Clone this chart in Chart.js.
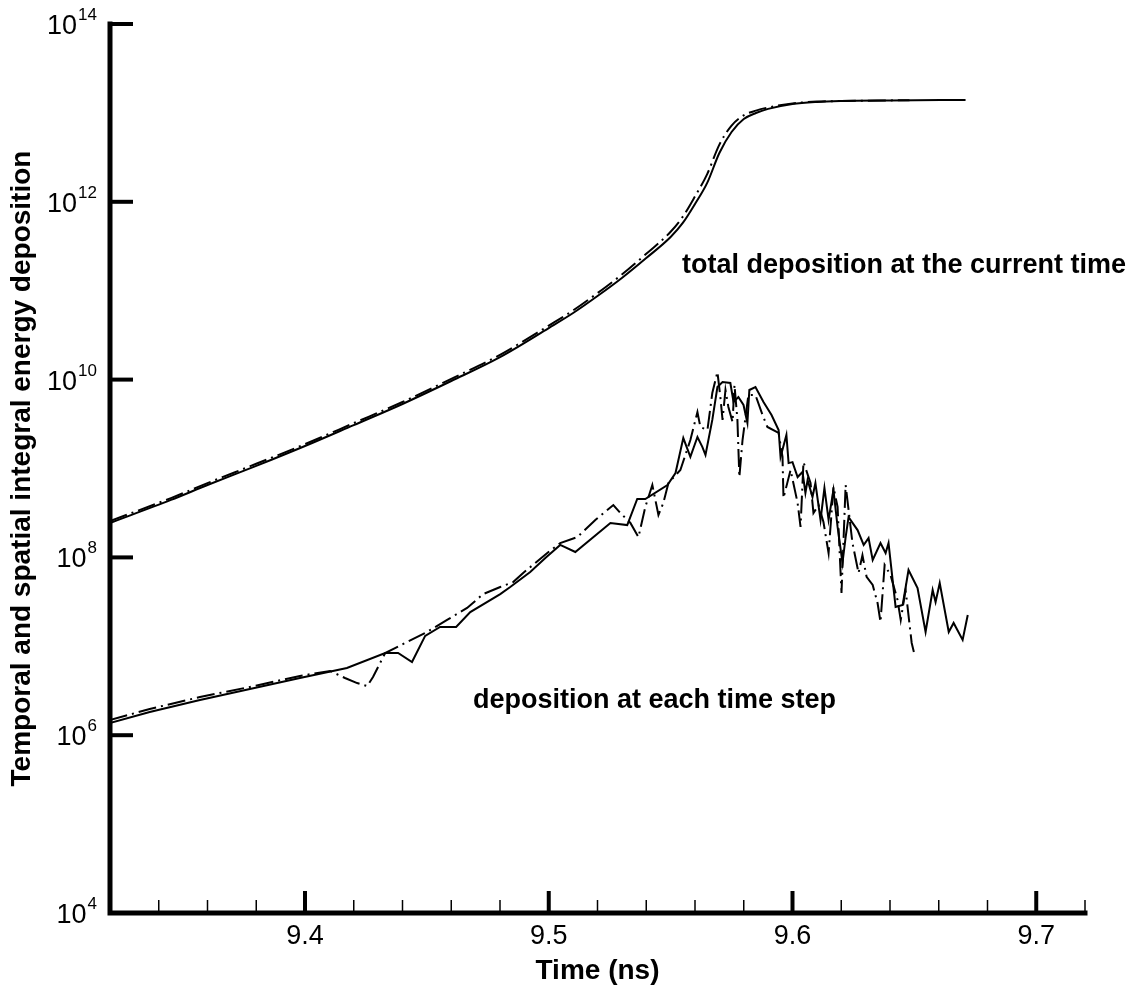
<!DOCTYPE html>
<html>
<head>
<meta charset="utf-8">
<script src="https://cdn.jsdelivr.net/npm/chart.js@4.4.1/dist/chart.umd.min.js"></script>
<style>
  html, body { margin: 0; padding: 0; background: #fff; }
</style>
</head>
<body>
<canvas id="chart" width="1136" height="989"></canvas>
<script>
// Ejes
const xTicks = [9.32, 9.34, 9.36, 9.38, 9.40, 9.42, 9.44, 9.46, 9.48, 9.50, 9.52,
  9.54, 9.56, 9.58, 9.60, 9.62, 9.64, 9.66, 9.68, 9.70, 9.72];
const xLabels = [9.4, 9.5, 9.6, 9.7];
const yTicks = [1e4, 1e6, 1e8, 1e10, 1e12, 1e14];

// Deposición total (curva superior)
const totalTime = [9.32, 9.345, 9.36, 9.38, 9.40, 9.42, 9.44, 9.46, 9.48, 9.50, 9.51,
  9.52, 9.53, 9.54, 9.55, 9.555, 9.56, 9.565, 9.57, 9.575, 9.58, 9.585, 9.59, 9.60,
  9.61, 9.62, 9.64, 9.671];
const totalSolid = [2.44e8, 4.43e8, 6.52e8, 1.07e9, 1.79e9, 3.08e9, 5.32e9, 9.64e9,
  1.79e10, 3.80e10, 5.61e10, 8.71e10, 1.39e11, 2.33e11, 4.02e11, 5.78e11, 9.44e11,
  1.63e12, 3.54e12, 6.10e12, 8.53e12, 9.98e12, 1.11e13, 1.26e13, 1.33e13, 1.36e13,
  1.38e13, 1.40e13];
const totalDashTime = [9.32, 9.345, 9.36, 9.38, 9.40, 9.42, 9.44, 9.46, 9.48, 9.50, 9.51,
  9.52, 9.53, 9.54, 9.55, 9.555, 9.56, 9.565, 9.57, 9.575, 9.58, 9.585, 9.59, 9.60,
  9.61, 9.62, 9.648];
const totalDashDot = [2.56e8, 4.65e8, 6.85e8, 1.13e9, 1.88e9, 3.24e9, 5.6e9, 1.02e10,
  1.9e10, 4.05e10, 6.0e10, 9.4e10, 1.52e11, 2.6e11, 4.6e11, 6.8e11, 1.15e12, 2.05e12,
  4.4e12, 7.2e12, 9.4e12, 1.06e13, 1.15e13, 1.28e13, 1.34e13, 1.36e13, 1.39e13];

// Deposición en cada paso de tiempo (curva inferior)
const stepTime = [9.3199, 9.3363, 9.3569, 9.3774, 9.3979, 9.4172, 9.4329, 9.4382, 9.4439,
  9.4493, 9.4554, 9.4620, 9.4678, 9.4801, 9.4842, 9.4924, 9.4986, 9.5047, 9.5109, 9.5253,
  9.5322, 9.5363, 9.5396, 9.5487, 9.5520, 9.5552, 9.5581, 9.5610, 9.5630, 9.5643, 9.5671,
  9.5692, 9.5713, 9.5745, 9.5758, 9.5778, 9.5799, 9.5815, 9.5823, 9.5848, 9.5881, 9.5914,
  9.5943, 9.5951, 9.5975, 9.5984, 9.6000, 9.6021, 9.6041, 9.6053, 9.6062, 9.6082, 9.6094,
  9.6115, 9.6131, 9.6148, 9.6168, 9.6185, 9.6205, 9.6218, 9.6230, 9.6267, 9.6292, 9.6312,
  9.6329, 9.6361, 9.6382, 9.6394, 9.6423, 9.6452, 9.6476, 9.6513, 9.6546, 9.6575, 9.6587,
  9.6604, 9.6641, 9.6661, 9.6698, 9.6719];
const stepSolid = [1.37e6, 1.82e6, 2.49e6, 3.31e6, 4.40e6, 5.70e6, 8.41e6, 8.41e6, 6.65e6,
  1.31e7, 1.65e7, 1.65e7, 2.43e7, 3.87e7, 4.65e7, 6.86e7, 9.84e7, 1.38e8, 1.15e8, 2.44e8,
  2.31e8, 4.54e8, 4.54e8, 6.52e8, 8.89e8, 2.20e9, 1.35e9, 2.26e9, 1.75e9, 1.42e9, 3.52e9,
  8.26e9, 9.40e9, 9.16e9, 5.60e9, 6.37e9, 5.18e9, 3.25e9, 7.64e9, 8.26e9, 5.60e9, 4.00e9,
  2.71e9, 1.35e9, 2.38e9, 1.15e9, 1.18e9, 8.02e8, 9.14e8, 5.30e8, 7.43e8, 4.78e8, 6.87e8,
  2.64e8, 6.04e8, 2.64e8, 5.73e8, 2.20e8, 8.65e7, 1.69e8, 2.84e8, 2.03e8, 1.38e8, 1.65e8,
  9.35e7, 1.45e8, 1.12e8, 1.45e8, 2.77e7, 2.92e7, 7.21e7, 4.53e7, 1.45e7, 4.30e7, 3.15e7,
  5.15e7, 1.45e7, 1.83e7, 1.18e7, 2.25e7];
const stepDashTime = [9.3199, 9.3363, 9.3569, 9.3774, 9.3979, 9.4103, 9.4164, 9.4214, 9.4255,
  9.4279, 9.4329, 9.4411, 9.4493, 9.4583, 9.4665, 9.4731, 9.4801, 9.4854, 9.4895, 9.4994,
  9.5047, 9.5117, 9.5191, 9.5265, 9.5294, 9.5335, 9.5368, 9.5396, 9.5425, 9.5450, 9.5470,
  9.5491, 9.5540, 9.5581, 9.5610, 9.5622, 9.5651, 9.5671, 9.5692, 9.5704, 9.5713, 9.5725,
  9.5737, 9.5754, 9.5762, 9.5774, 9.5782, 9.5795, 9.5819, 9.5848, 9.5877, 9.5897, 9.5943,
  9.5959, 9.5963, 9.5992, 9.6021, 9.6033, 9.6045, 9.6074, 9.6086, 9.6107, 9.6127, 9.6148,
  9.6168, 9.6185, 9.6201, 9.6218, 9.6246, 9.6271, 9.6287, 9.6304, 9.6329, 9.6349, 9.6361,
  9.6378, 9.6402, 9.6431, 9.6444, 9.6464, 9.6489, 9.6501];
const stepDashDot = [1.48e6, 1.97e6, 2.69e6, 3.49e6, 4.64e6, 5.28e6, 4.40e6, 3.86e6, 3.57e6,
  4.52e6, 8.41e6, 1.09e7, 1.41e7, 1.98e7, 2.70e7, 3.87e7, 4.65e7, 5.28e7, 6.68e7, 1.12e8,
  1.45e8, 1.69e8, 2.64e8, 3.88e8, 3.16e8, 2.44e8, 1.69e8, 3.69e8, 6.52e8, 3.00e8, 4.09e8,
  6.87e8, 9.62e8, 2.09e9, 4.32e9, 2.93e9, 2.71e9, 7.06e9, 1.22e10, 6.37e9, 3.52e9, 7.64e9,
  4.92e9, 3.33e9, 8.69e9, 3.52e9, 8.02e8, 2.09e9, 6.71e9, 6.71e9, 4.00e9, 2.93e9, 2.51e9,
  1.35e9, 4.66e8, 9.62e8, 4.09e8, 2.20e8, 1.18e9, 6.87e8, 3.16e8, 3.88e8, 2.50e8, 1.12e8,
  6.19e8, 3.69e8, 3.98e7, 6.52e8, 1.45e8, 6.68e7, 1.06e8, 6.03e7, 4.90e7, 3.07e7, 1.88e7,
  8.22e7, 6.34e7, 3.32e7, 1.98e7, 4.30e7, 1.09e7, 7.98e6];

const FONT = '"Liberation Sans", Arial, Helvetica, sans-serif';
const DASH_DOT = [18, 5, 2, 5];

const toPoints = (xs, ys) => xs.map((x, i) => ({ x, y: ys[i] }));
const isMajor = (v) => xLabels.some((m) => Math.abs(m - v) < 1e-6);

const makeLine = (data, dash, smooth) => ({
  data,
  borderColor: "#000",
  borderWidth: 2,
  borderDash: dash,
  pointRadius: 0,
  tension: 0,
  cubicInterpolationMode: smooth ? "monotone" : "default",
  fill: false,
});

// Ticks hacia dentro, ejes gruesos, etiquetas 10^n y anotaciones
const axesPlugin = {
  id: "axesPlugin",
  afterDraw(chart) {
    const ctx = chart.ctx;
    const { left, right, top, bottom } = chart.chartArea;
    const xs = chart.scales.x;
    const ys = chart.scales.y;
    ctx.save();
    ctx.strokeStyle = "#000";
    ctx.fillStyle = "#000";
    ctx.lineCap = "butt";

    xs.ticks.forEach((t) => {
      const px = xs.getPixelForValue(t.value);
      const major = isMajor(t.value);
      ctx.lineWidth = major ? 4 : 1.5;
      ctx.beginPath();
      ctx.moveTo(px, bottom);
      ctx.lineTo(px, bottom - (major ? 22 : 13));
      ctx.stroke();
    });

    ys.ticks.forEach((t) => {
      const py = ys.getPixelForValue(t.value);
      ctx.lineWidth = 4;
      ctx.beginPath();
      ctx.moveTo(left, py);
      ctx.lineTo(left + 23, py);
      ctx.stroke();

      const sup = String(Math.round(Math.log10(t.value)));
      ctx.textAlign = "right";
      ctx.textBaseline = "alphabetic";
      ctx.font = "17px " + FONT;
      ctx.fillText(sup, 97, py - 4);
      const w = ctx.measureText(sup).width;
      ctx.font = "27px " + FONT;
      ctx.fillText("10", 97 - w - 1, py + 10);
    });

    ctx.lineWidth = 5;
    ctx.lineCap = "square";
    ctx.lineJoin = "miter";
    ctx.beginPath();
    ctx.moveTo(left, top);
    ctx.lineTo(left, bottom);
    ctx.lineTo(right, bottom);
    ctx.stroke();

    ctx.font = "bold 27px " + FONT;
    ctx.textAlign = "left";
    ctx.textBaseline = "alphabetic";
    ctx.fillText("total deposition at the current time", 682, 273);
    ctx.fillText("deposition at each time step", 473, 708);
    ctx.restore();
  },
};

new Chart(document.querySelector("#chart").getContext("2d"), {
  type: "line",
  data: {
    datasets: [
      makeLine(toPoints(totalTime, totalSolid), [], true),
      makeLine(toPoints(totalDashTime, totalDashDot), DASH_DOT, true),
      makeLine(toPoints(stepTime, stepSolid), [], false),
      makeLine(toPoints(stepDashTime, stepDashDot), DASH_DOT, false),
    ],
  },
  options: {
    responsive: false,
    animation: false,
    layout: { padding: { top: 24, right: 51, left: 0, bottom: 0 } },
    plugins: {
      legend: { display: false },
      tooltip: { enabled: false },
    },
    scales: {
      x: {
        type: "linear",
        min: 9.32,
        max: 9.72,
        afterBuildTicks: (scale) => {
          scale.ticks = xTicks.map((v) => ({ value: v }));
        },
        afterFit: (scale) => {
          scale.height = 76;
        },
        grid: { display: false, drawTicks: false },
        border: { display: false },
        ticks: {
          autoSkip: false,
          maxRotation: 0,
          padding: 7,
          color: "#000",
          font: { family: FONT, size: 27 },
          callback: (v) => (isMajor(v) ? Number(v).toFixed(1) : ""),
        },
        title: {
          display: true,
          text: "Time (ns)",
          color: "#000",
          font: { family: FONT, size: 28, weight: "bold" },
          padding: { top: 0, bottom: 1 },
        },
      },
      y: {
        type: "logarithmic",
        min: 1e4,
        max: 1e14,
        afterBuildTicks: (scale) => {
          scale.ticks = yTicks.map((v) => ({ value: v }));
        },
        afterFit: (scale) => {
          scale.width = 110;
        },
        grid: { display: false, drawTicks: false },
        border: { display: false },
        ticks: { display: false },
        title: {
          display: true,
          text: "Temporal and spatial integral energy deposition",
          color: "#000",
          font: { family: FONT, size: 28, weight: "bold" },
          padding: { top: 5, bottom: 0 },
        },
      },
    },
  },
  plugins: [axesPlugin],
});
</script>
</body>
</html>
